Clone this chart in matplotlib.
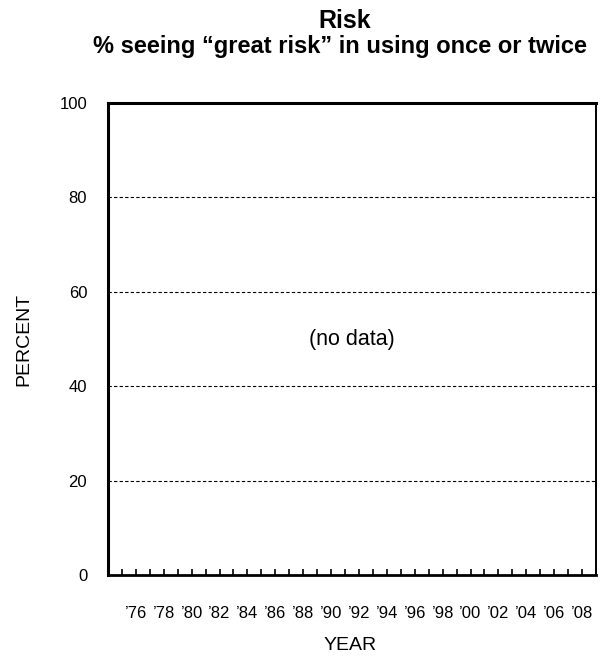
import matplotlib
matplotlib.use("Agg")
import matplotlib.pyplot as plt

plt.rcParams['font.family'] = ['Liberation Sans', 'DejaVu Sans']

# Data
years = list(range(1975, 2009))
label_years = list(range(1976, 2009, 2))
tick_labels = ["\u2019%02d" % (y % 100) if y in label_years else "" for y in years]
y_ticks = [0, 20, 40, 60, 80, 100]
grid_levels = [20, 40, 60, 80]
title = "Risk"
subtitle = "% seeing \u201cgreat risk\u201d in using once or twice"
note = "(no data)"

W, H = 605, 658
fig = plt.figure(figsize=(W / 100, H / 100), dpi=100)
L, R, T, B = 108, 596, 103, 575
ax = fig.add_axes([L / W, 1 - B / H, (R - L) / W, (B - T) / H])
ax.set_xlim(1974, 2009)
ax.set_ylim(0, 100)

for g in grid_levels:
    ax.axhline(g, color='black', lw=0.8, ls=(0, (3, 2)), zorder=1)

ax.set_yticks(y_ticks)
ax.set_yticklabels([str(v) for v in y_ticks], fontsize=12)
ax.tick_params(axis='y', length=0, pad=15)

ax.set_xticks(years)
ax.set_xticklabels(tick_labels, fontsize=12)
ax.tick_params(axis='x', direction='in', length=4, width=1.2, pad=22)

ax.spines['left'].set_linewidth(2.2)
ax.spines['top'].set_linewidth(2.2)
ax.spines['bottom'].set_linewidth(2.0)
ax.spines['right'].set_linewidth(1.4)

ax.text(1991.5, 50, note, ha='center', va='center', fontsize=15.5)

ax.set_ylabel("PERCENT", fontsize=14, va='center')
ax.yaxis.set_label_coords((24 - L) / (R - L), 0.5)
ax.set_xlabel("YEAR", fontsize=14, va='center')
ax.xaxis.set_label_coords(0.5 - 2 / (R - L), -(645 - B) / (B - T))

fig.text(345 / W, 1 - 21 / H, title, ha='center', va='center', fontsize=18, fontweight='bold')
fig.text(340 / W, 1 - 46 / H, subtitle, ha='center', va='center', fontsize=17, fontweight='bold')

fig.savefig("out.png", dpi=100)
